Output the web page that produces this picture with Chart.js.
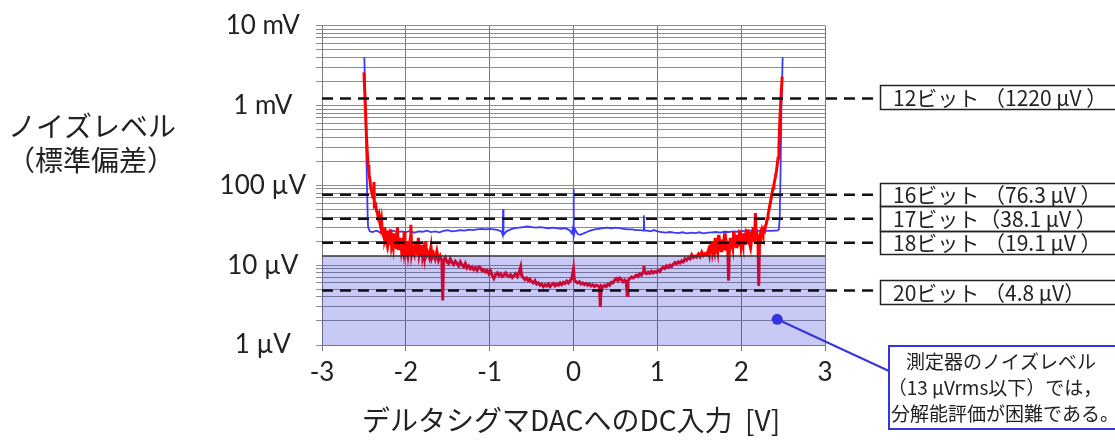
<!DOCTYPE html>
<html lang="ja">
<head>
<meta charset="utf-8">
<script src="https://cdn.jsdelivr.net/npm/chart.js@4.4.1/dist/chart.umd.min.js"></script>
<style>
  html, body { margin: 0; padding: 0; background: #fff; }
  #wrap { width: 1115px; height: 440px; }
</style>
</head>
<body>
<div id="wrap"><canvas id="noiseChart" width="1115" height="440"></canvas></div>
<script>
// x ticks (V) and y decades (µV)
const xTicks = [-3, -2, -1, 0, 1, 2, 3];
const yDecades = [1, 10, 100, 1000, 10000];
const yDecadeLabels = ['1 µV', '10 µV', '100 µV', '1 mV', '10 mV'];

// bit resolution reference levels (µV)
const bitLevels = [1220, 76.3, 38.1, 19.1, 4.8];
const bitLabels = ['12ビット （1220 µV ）', '16ビット （76.3 µV ）', '17ビット（38.1 µV ）', '18ビット （19.1 µV ）', '20ビット （4.8 µV）'];

// noise floor of the measuring instrument (µV)
const meterNoise = 13;
const calloutLines = ['測定器のノイズレベル', '（13 µVrms以下）では，', '分解能評価が困難である。'];

// blue trace [V, µV]
const blueTrace = [
  [-2.495, 4000], [-2.48, 800], [-2.465, 120], [-2.455, 40], [-2.45, 30], [-2.43, 26.5],
  [-2.40, 26], [-2.35, 27], [-2.30, 25.5], [-2.25, 26.5], [-2.20, 26], [-2.15, 27], [-2.10, 25.8],
  [-2.05, 26.5], [-2.00, 26], [-1.95, 26.8], [-1.90, 25.5], [-1.85, 26.5], [-1.80, 26.2],
  [-1.75, 27], [-1.70, 26], [-1.65, 26.5], [-1.60, 25.8], [-1.55, 26.8], [-1.50, 27.5],
  [-1.45, 26.5], [-1.40, 26.8], [-1.35, 27.5], [-1.30, 27], [-1.25, 27.8], [-1.20, 27.5],
  [-1.15, 28], [-1.10, 28.5], [-1.05, 28], [-1.00, 28.5], [-0.95, 28], [-0.90, 27.5],
  [-0.86, 26.5], [-0.845, 24], [-0.84, 50], [-0.835, 24], [-0.82, 25], [-0.80, 26.5],
  [-0.75, 28], [-0.70, 29], [-0.65, 29.5], [-0.60, 30], [-0.55, 30.5], [-0.50, 30],
  [-0.45, 29.5], [-0.40, 30], [-0.35, 29.5], [-0.30, 29], [-0.25, 29.5], [-0.20, 29],
  [-0.15, 28.5], [-0.10, 29], [-0.05, 27.5], [-0.02, 25], [-0.005, 30], [0.0, 90], [0.005, 23],
  [0.02, 28], [0.05, 24.5], [0.08, 24], [0.12, 25], [0.16, 26], [0.20, 27], [0.25, 28],
  [0.30, 28.5], [0.35, 29], [0.40, 29.5], [0.45, 29], [0.50, 29.5], [0.55, 29], [0.60, 28.5],
  [0.65, 28], [0.70, 28], [0.75, 27.5], [0.80, 27.5], [0.835, 27], [0.84, 42], [0.845, 27],
  [0.88, 27], [0.92, 26.5], [0.96, 27.5], [1.00, 26.5], [1.05, 26], [1.10, 25.5], [1.15, 26],
  [1.20, 25.5], [1.25, 25.2], [1.30, 25.8], [1.35, 25], [1.40, 25.5], [1.45, 25.2], [1.50, 25.8],
  [1.55, 25], [1.60, 25.5], [1.65, 25.8], [1.70, 26], [1.75, 25.5], [1.80, 26.2], [1.85, 26],
  [1.90, 26.5], [1.95, 26.2], [2.00, 26.8], [2.05, 26.5], [2.10, 27], [2.15, 26.5], [2.20, 27],
  [2.25, 26.5], [2.30, 27], [2.35, 26.8], [2.40, 27], [2.43, 27], [2.45, 28], [2.46, 40],
  [2.47, 150], [2.48, 900], [2.495, 4000]
];

// red trace [V, µV]
const redTrace = [
  [-2.50, 2600], [-2.49, 1500], [-2.48, 800], [-2.47, 420], [-2.46, 260], [-2.45, 180],
  [-2.44, 140], [-2.43, 120], [-2.42, 95], [-2.41, 85], [-2.40, 76], [-2.39, 70], [-2.38, 110],
  [-2.375, 55], [-2.36, 57], [-2.35, 48], [-2.34, 45], [-2.33, 40], [-2.32, 43], [-2.31, 34],
  [-2.30, 30], [-2.29, 36], [-2.28, 26], [-2.27, 24], [-2.26, 30], [-2.25, 21], [-2.24, 23],
  [-2.23, 20], [-2.22, 27], [-2.21, 19], [-2.20, 22], [-2.19, 18], [-2.18, 28], [-2.17, 17.5],
  [-2.16, 20], [-2.15, 17], [-2.14, 25], [-2.13, 16.5], [-2.12, 19], [-2.11, 16], [-2.10, 30],
  [-2.09, 15.5], [-2.08, 18], [-2.07, 15.5], [-2.06, 22], [-2.05, 15], [-2.04, 17], [-2.03, 14.8],
  [-2.02, 26], [-2.01, 14.5], [-2.00, 16], [-1.99, 14.5], [-1.98, 20], [-1.97, 14.2], [-1.96, 17],
  [-1.95, 14], [-1.94, 32], [-1.93, 14], [-1.92, 16], [-1.90, 13.8], [-1.89, 19], [-1.88, 13.8],
  [-1.87, 16], [-1.86, 13.5], [-1.85, 22], [-1.84, 13.5], [-1.83, 15], [-1.82, 13.2], [-1.81, 18],
  [-1.80, 13], [-1.79, 15], [-1.78, 12.8], [-1.77, 20], [-1.76, 12.8], [-1.74, 14.5], [-1.72, 12.5],
  [-1.70, 17], [-1.69, 12.3], [-1.67, 14], [-1.65, 12], [-1.63, 15], [-1.61, 11.5], [-1.59, 13],
  [-1.57, 11.3], [-1.56, 3.6], [-1.55, 11.5], [-1.53, 12.5], [-1.51, 11], [-1.49, 10.5],
  [-1.47, 12], [-1.45, 10.8], [-1.43, 10.2], [-1.41, 11.2], [-1.39, 10.5], [-1.37, 9.8],
  [-1.35, 11], [-1.33, 10], [-1.31, 9.5], [-1.29, 10.5], [-1.27, 9.2], [-1.25, 9.8], [-1.23, 9.0],
  [-1.21, 9.5], [-1.19, 8.8], [-1.17, 9.3], [-1.15, 8.6], [-1.13, 9.5], [-1.11, 9.3], [-1.09, 8.5],
  [-1.07, 8.8], [-1.05, 8.2], [-1.03, 8.6], [-1.01, 7.8], [-0.99, 8.5], [-0.97, 7.5], [-0.95, 6.8],
  [-0.93, 7.6], [-0.91, 8.0], [-0.89, 7.4], [-0.87, 7.8], [-0.85, 7.2], [-0.83, 7.5], [-0.81, 8.0],
  [-0.79, 7.4], [-0.77, 7.2], [-0.75, 7.6], [-0.73, 7.0], [-0.71, 7.4], [-0.69, 7.8], [-0.67, 7.2],
  [-0.65, 8.0], [-0.63, 9.5], [-0.62, 7.5], [-0.60, 7.0], [-0.58, 6.6], [-0.56, 6.9], [-0.54, 6.4],
  [-0.52, 6.7], [-0.50, 6.2], [-0.48, 6.0], [-0.46, 6.4], [-0.44, 5.8], [-0.42, 6.0], [-0.40, 5.6],
  [-0.38, 5.8], [-0.36, 5.4], [-0.34, 5.7], [-0.32, 5.5], [-0.30, 5.8], [-0.28, 5.4], [-0.26, 5.7],
  [-0.24, 5.9], [-0.22, 5.5], [-0.20, 5.8], [-0.18, 5.6], [-0.16, 6.0], [-0.14, 5.7], [-0.12, 6.1],
  [-0.10, 5.9], [-0.08, 6.3], [-0.06, 6.0], [-0.04, 6.4], [-0.02, 6.8], [0.00, 9.0], [0.01, 6.5],
  [0.03, 6.2], [0.05, 6.0], [0.07, 6.2], [0.09, 5.8], [0.11, 6.0], [0.13, 5.7], [0.15, 5.9],
  [0.17, 5.6], [0.19, 5.8], [0.21, 5.5], [0.23, 5.7], [0.25, 5.4], [0.27, 5.6], [0.29, 5.5],
  [0.31, 5.3], [0.32, 3.0], [0.33, 5.5], [0.35, 5.3], [0.37, 5.6], [0.39, 5.4], [0.41, 5.8],
  [0.43, 5.6], [0.45, 6.1], [0.47, 6.0], [0.49, 6.5], [0.51, 6.8], [0.53, 6.4], [0.55, 6.9],
  [0.57, 6.6], [0.59, 6.2], [0.61, 6.5], [0.63, 6.0], [0.64, 4.2], [0.65, 6.4], [0.67, 6.8],
  [0.69, 7.1], [0.71, 6.9], [0.73, 7.2], [0.75, 7.5], [0.77, 7.2], [0.79, 7.8], [0.81, 7.5],
  [0.83, 8.2], [0.84, 9.8], [0.85, 8.0], [0.87, 7.8], [0.89, 8.2], [0.91, 7.9], [0.93, 8.4],
  [0.95, 8.0], [0.97, 8.3], [0.99, 8.1], [1.01, 8.6], [1.03, 8.3], [1.05, 9.0], [1.07, 9.4],
  [1.09, 9.1], [1.11, 9.8], [1.13, 9.4], [1.15, 10.0], [1.17, 9.6], [1.19, 10.3], [1.21, 10.8],
  [1.23, 10.4], [1.25, 11.0], [1.27, 10.6], [1.29, 11.3], [1.31, 11.0], [1.33, 12.0], [1.35, 11.5],
  [1.37, 12.3], [1.39, 12.0], [1.41, 13.5], [1.43, 12.5], [1.45, 13.0], [1.47, 12.6], [1.49, 13.8],
  [1.51, 12.8], [1.53, 14.5], [1.55, 13.2], [1.57, 14.0], [1.59, 13.5], [1.61, 15.5], [1.62, 13.8],
  [1.63, 18], [1.64, 14], [1.65, 20], [1.66, 14.2], [1.67, 16], [1.68, 14.5], [1.69, 22],
  [1.70, 14.5], [1.71, 17], [1.72, 14.8], [1.73, 24], [1.74, 15], [1.75, 18], [1.76, 15.2],
  [1.77, 21], [1.78, 15.5], [1.79, 19], [1.80, 15.5], [1.81, 25], [1.82, 15.8], [1.83, 18],
  [1.84, 16], [1.85, 6.4], [1.86, 16.2], [1.87, 22], [1.88, 16.5], [1.89, 19], [1.90, 16.5],
  [1.91, 26], [1.92, 16.8], [1.93, 20], [1.94, 17], [1.95, 24], [1.96, 17.2], [1.97, 21],
  [1.98, 17.5], [1.99, 27], [2.00, 17.5], [2.01, 20], [2.02, 17.8], [2.03, 25], [2.04, 18],
  [2.05, 22], [2.06, 18.2], [2.07, 28], [2.08, 18.5], [2.09, 21], [2.10, 18.8], [2.11, 26],
  [2.12, 19], [2.13, 23], [2.14, 19.5], [2.15, 30], [2.16, 20], [2.17, 45], [2.18, 20.5],
  [2.19, 24], [2.20, 21], [2.21, 5.5], [2.22, 22], [2.23, 25], [2.24, 23], [2.25, 27],
  [2.26, 24.5], [2.27, 28], [2.28, 27], [2.29, 31], [2.30, 33], [2.31, 38], [2.32, 42],
  [2.33, 48], [2.34, 55], [2.35, 62], [2.36, 72], [2.37, 82], [2.38, 92], [2.39, 101],
  [2.40, 115], [2.41, 130], [2.42, 150], [2.43, 180], [2.44, 220], [2.45, 300], [2.46, 600],
  [2.47, 1000], [2.48, 1600], [2.49, 2300]
];

const latin = "Lato, 'Noto Sans CJK JP', sans-serif";
const jp = "'Noto Sans CJK JP', sans-serif";

// annotation layer: shaded noise floor, bit lines, boxes, callout, titles
const overlay = {
  id: 'overlay',
  afterDatasetsDraw(chart) {
    const { ctx, chartArea: a, scales: { x, y } } = chart;
    ctx.save();

    const yn = y.getPixelForValue(meterNoise);
    ctx.fillStyle = 'rgba(40, 40, 220, 0.25)';
    ctx.fillRect(a.left, yn, a.right - a.left, a.bottom - yn);
    ctx.strokeStyle = '#333';
    ctx.lineWidth = 1.5;
    ctx.beginPath();
    ctx.moveTo(a.left, yn);
    ctx.lineTo(a.right, yn);
    ctx.stroke();

    const boxLeft = 880;
    ctx.strokeStyle = '#111';
    ctx.lineWidth = 2.5;
    ctx.setLineDash([11, 7]);
    bitLevels.forEach(v => {
      const py = y.getPixelForValue(v);
      ctx.beginPath();
      ctx.moveTo(a.left, py);
      ctx.lineTo(boxLeft, py);
      ctx.stroke();
    });
    ctx.setLineDash([]);

    const boxes = [[85, 109], [183, 206], [206, 231], [231, 254], [280, 304]];
    ctx.lineWidth = 1.5;
    ctx.strokeStyle = '#222';
    ctx.fillStyle = '#222';
    ctx.font = '21px ' + jp;
    ctx.textBaseline = 'middle';
    ctx.textAlign = 'left';
    boxes.forEach(([t, b], i) => {
      ctx.strokeRect(boxLeft + 0.5, t + 0.5, 260, b - t);
      ctx.fillText(bitLabels[i], 893, (t + b) / 2 + 1);
    });

    // callout
    const dx = x.getPixelForValue(2.43), dy = y.getPixelForValue(2.1);
    ctx.fillStyle = '#3535e0';
    ctx.strokeStyle = '#3535e0';
    ctx.beginPath();
    ctx.arc(dx, dy, 5.5, 0, Math.PI * 2);
    ctx.fill();
    ctx.lineWidth = 2;
    ctx.beginPath();
    ctx.moveTo(dx, dy);
    ctx.lineTo(889, 371);
    ctx.stroke();
    ctx.strokeRect(889, 346, 240, 83);
    ctx.fillStyle = '#222';
    ctx.font = '19px ' + jp;
    ctx.textAlign = 'center';
    ctx.fillText(calloutLines[0], 1001, 362);
    ctx.fillText(calloutLines[1], 995, 388);
    ctx.textAlign = 'left';
    ctx.fillText(calloutLines[2], 891, 414);

    // axis titles
    ctx.textAlign = 'center';
    ctx.font = '28px ' + jp;
    ctx.fillText('ノイズレベル', 92, 126);
    ctx.fillText('（標準偏差）', 91, 160);
    ctx.fillText('デルタシグマDACへのDC入力  [V]', 571, 420);
    ctx.restore();
  }
};

const toXY = pts => pts.map(([vx, vy]) => ({ x: vx, y: vy }));

new Chart(document.getElementById('noiseChart'), {
  type: 'line',
  data: {
    datasets: [{
      label: 'red',
      data: toXY(redTrace),
      borderColor: '#ff0000',
      borderWidth: 3,
      pointRadius: 0,
      tension: 0,
      order: 0
    }, {
      label: 'blue',
      data: toXY(blueTrace),
      borderColor: '#3a3aff',
      borderWidth: 1.8,
      pointRadius: 0,
      tension: 0,
      order: 1
    }]
  },
  options: {
    responsive: false,
    animation: false,
    layout: { padding: { top: 22, right: 290, left: 0, bottom: 0 } },
    plugins: { legend: { display: false }, tooltip: { enabled: false } },
    scales: {
      x: {
        type: 'linear',
        min: -3,
        max: 3,
        afterBuildTicks: s => { s.ticks = xTicks.map(v => ({ value: v })); },
        afterFit: s => { s.height = 95; },
        grid: { color: '#7a7a7a', lineWidth: 1, tickLength: 6 },
        border: { color: '#7a7a7a' },
        ticks: { font: { size: 26, family: latin }, color: '#222', padding: 6, maxRotation: 0 }
      },
      y: {
        type: 'logarithmic',
        min: 1,
        max: 10000,
        afterBuildTicks: s => {
          const t = [];
          yDecades.forEach(d => {
            for (let k = 1; k <= 9; k++) if (d * k <= 10000) t.push({ value: d * k, major: k === 1 });
          });
          s.ticks = t;
        },
        afterFit: s => { s.width = 322; },
        grid: { color: '#8c8c8c', lineWidth: 1, tickLength: 6 },
        border: { color: '#7a7a7a' },
        ticks: {
          autoSkip: false,
          crossAlign: 'center',
          padding: 10,
          color: '#222',
          font: { size: 26, family: latin },
          callback: v => {
            const i = yDecades.indexOf(v);
            return i >= 0 ? yDecadeLabels[i] : '';
          }
        }
      }
    }
  },
  plugins: [overlay]
});
</script>
</body>
</html>
